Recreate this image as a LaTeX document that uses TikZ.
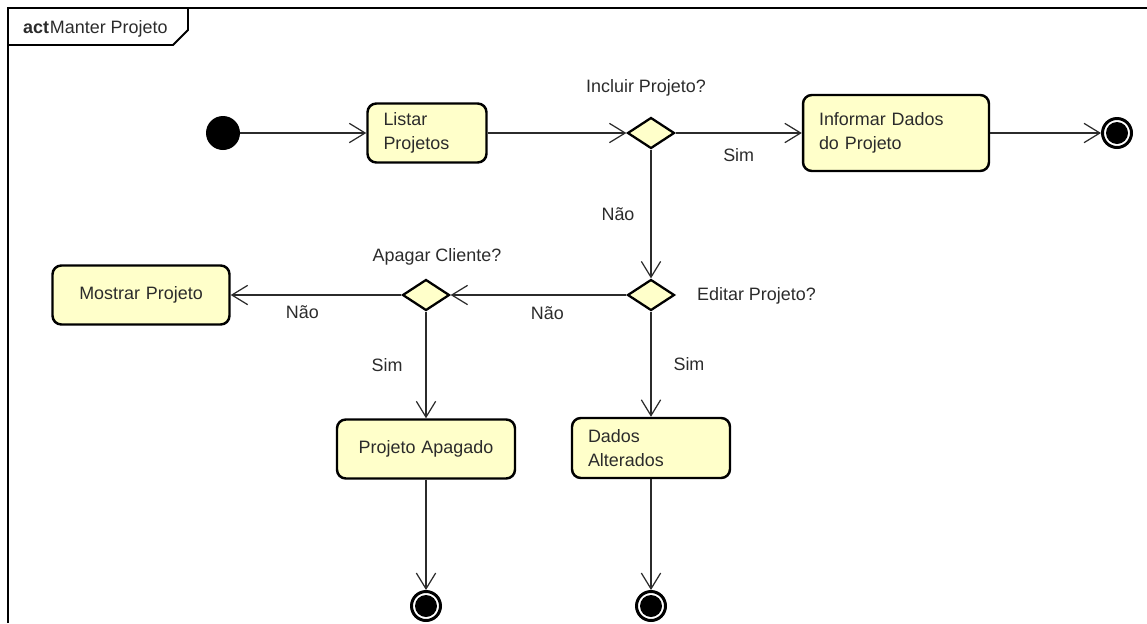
\documentclass[tikz,border=0pt]{standalone}
\usepackage{fontspec}
\setmainfont{Liberation Sans}
\usepackage{tikz}
\usetikzlibrary{positioning,shapes.geometric,arrows.meta}
\definecolor{note}{HTML}{FFFFCA}
\definecolor{ink}{HTML}{2B2B2B}

\begin{document}
\begin{tikzpicture}[x=0.02cm,y=-0.02cm,
    every node/.style={font=\fontsize{10.2}{13.6}\selectfont,text=ink},
    action/.style={draw=black,line width=1.4pt,rounded corners=5pt,fill=note,inner xsep=0.32cm,inner ysep=0pt,align=left,minimum height=1.18cm},
    decision/.style={diamond,draw=black,line width=1.3pt,fill=note,inner sep=0pt,aspect=1.5,minimum width=0.94cm,minimum height=0.62cm},
    startdot/.style={circle,fill=black,inner sep=0pt,minimum size=0.68cm},
    enddot/.style={circle,draw=black,line width=1.7pt,fill=white,inner sep=0pt,minimum size=0.58cm,
      path picture={\fill[black] (path picture bounding box.center) circle (0.22cm);}},
    flow/.style={draw=ink,line width=0.7pt,-{Straight Barb[length=9pt,width=11pt]}},
    frame/.style={draw=black,line width=1.1pt}]
    \useasboundingbox (0,0) rectangle (1147,623);
    \draw[frame] (8,623) -- (8,8) -- (1147,8);
    \draw[frame] (8,45) -- (173,45) -- (188,30) -- (188,8);
    \node[anchor=west] (titulo) at (17,29) {\textbf{act}\hspace{0.5pt}Manter Projeto};
    \node[startdot] (init) at (223,133) {};
    \node[action,text width=1.74cm] (listar) at (427,133) {Listar\\Projetos};
    \node[decision] (incluir) at (651,133) {};
    \node[action,text width=3.08cm,minimum height=1.52cm] (informar) at (896,133) {Informar Dados\\do Projeto};
    \node[enddot] (fimA) at (1117,133) {};
    \node[decision] (editar) at (651,295) {};
    \node[decision] (apagar) at (426,295) {};
    \node[action,text width=2.9cm,align=center] (mostrar) at (141,295) {Mostrar Projeto};
    \node[action,text width=2.92cm,align=center] (apagado) at (426,449) {Projeto Apagado};
    \node[action,text width=2.52cm,minimum height=1.2cm] (alterados) at (651,448) {Dados\\Alterados};
    \node[enddot] (fimB) at (426,606) {};
    \node[enddot] (fimC) at (651,606) {};
    % guard texts
    \node (qIncluir) at (646,88) {Incluir Projeto?};
    \node[anchor=west] (qEditar) at (691,296) {Editar Projeto?};
    \node (qApagar) at (437,257) {Apagar Cliente?};
    \draw[flow] (init) -- (listar);
    \draw[flow] (listar) -- (incluir);
    \draw[flow] (incluir) -- node[yshift=-0.44cm]{Sim} (informar);
    \draw[flow] (informar) -- (fimA);
    \draw[flow] (incluir) -- node[xshift=-0.66cm]{Não} (editar);
    \draw[flow] (editar) -- node[pos=0.45,yshift=-0.36cm]{Não} (apagar);
    \draw[flow] (apagar) -- node[pos=0.58,yshift=-0.34cm]{Não} (mostrar);
    \draw[flow] (apagar) -- node[xshift=-0.78cm]{Sim} (apagado);
    \draw[flow] (editar) -- node[xshift=0.76cm]{Sim} (alterados);
    \draw[flow] (apagado) -- (fimB);
    \draw[flow] (alterados) -- (fimC);
  \end{tikzpicture}
\end{document}
